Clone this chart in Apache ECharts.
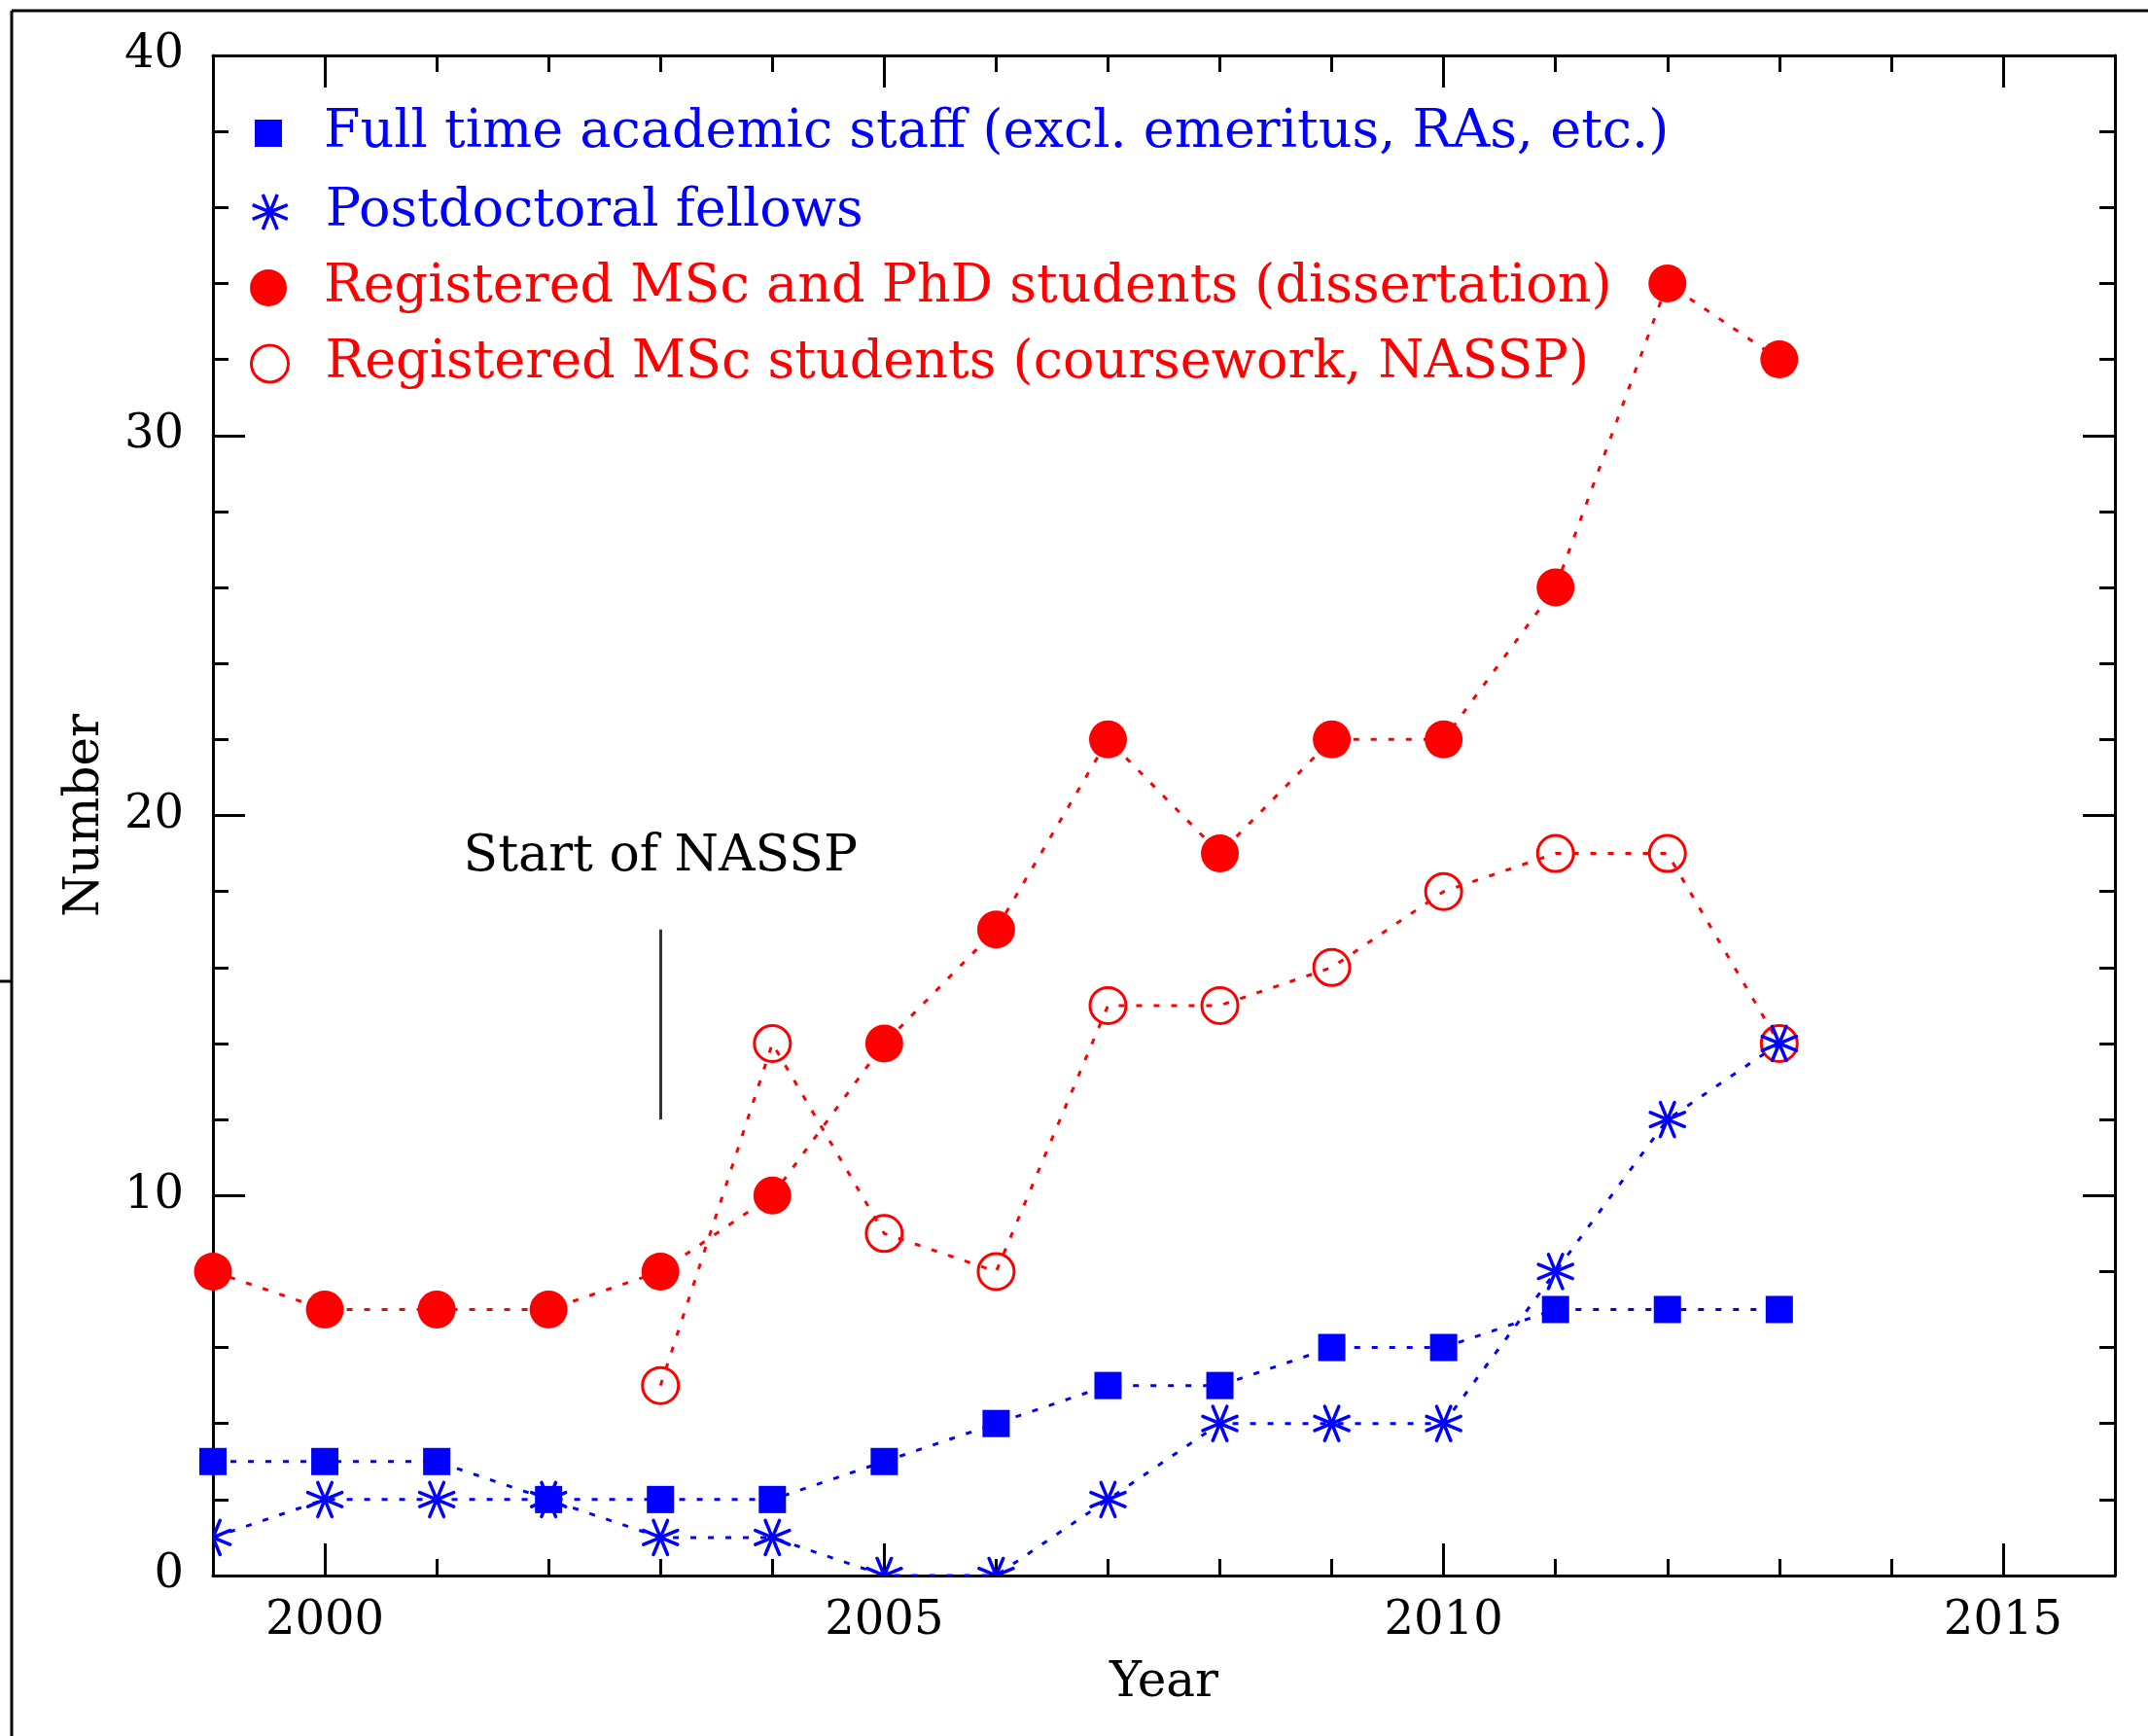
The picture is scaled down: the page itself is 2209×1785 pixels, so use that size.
<!DOCTYPE html>
<html>
<head>
<meta charset="utf-8">
<style>
  html, body { margin: 0; padding: 0; background: #fff; }
  #chart { width: 2209px; height: 1785px; }
</style>
<script src="https://cdn.jsdelivr.net/npm/echarts@6/dist/echarts.min.js"></script>
</head>
<body>
<div id="chart"></div>
<script>
// ---------- data ----------
var years = [1999, 2000, 2001, 2002, 2003, 2004, 2005, 2006, 2007, 2008, 2009, 2010, 2011, 2012, 2013];
var staff = [3, 3, 3, 2, 2, 2, 3, 4, 5, 5, 6, 6, 7, 7, 7];
var postdocs = [1, 2, 2, 2, 1, 1, 0, 0, 2, 4, 4, 4, 8, 12, 14];
var dissertation = [8, 7, 7, 7, 8, 10, 14, 17, 22, 19, 22, 22, 26, 34, 32];
var courseworkYears = [2003, 2004, 2005, 2006, 2007, 2008, 2009, 2010, 2011, 2012, 2013];
var coursework = [5, 14, 9, 8, 15, 15, 16, 18, 19, 19, 14];
var xLabelValues = [2000, 2005, 2010, 2015];
var seriesNames = [
  'Full time academic staff (excl. emeritus, RAs, etc.)',
  'Postdoctoral fellows',
  'Registered MSc and PhD students (dissertation)',
  'Registered MSc students (coursework, NASSP)'
];
var nasspYear = 2003;
var nasspLine = [12, 17];
var nasspTextY = 18.9;

function pairs(xs, ys) { return xs.map(function (x, i) { return [x, ys[i]]; }); }

// ---------- style ----------
var FONT = '"DejaVu Serif", serif';
var BLUE = '#0000ff';
var RED = '#ff0000';
var DOT = [6, 12];

var chart = echarts.init(document.getElementById('chart'), null, { renderer: 'canvas' });

function xAx(pos, longTicks, labels) {
  return {
    type: 'value', position: pos, gridIndex: 0,
    min: 1999, max: 2016,
    interval: 1,
    axisLine: { show: !longTicks, onZero: false, lineStyle: { color: '#000', width: 3 } },
    axisTick: longTicks
      ? { show: true, inside: true, length: 33, customValues: xLabelValues, lineStyle: { color: '#000', width: 3 } }
      : { show: true, inside: true, length: 17, lineStyle: { color: '#000', width: 3 } },
    axisLabel: labels
      ? { show: true, customValues: xLabelValues, formatter: function (v) { return String(v); },
          fontFamily: FONT, fontSize: 48, color: '#000', margin: 24 }
      : { show: false },
    splitLine: { show: false },
    name: labels ? 'Year' : '',
    nameLocation: 'middle', nameGap: 86,
    nameTextStyle: { fontFamily: FONT, fontSize: 50, color: '#000' }
  };
}
function yAx(pos, labels) {
  return {
    type: 'value', position: pos, gridIndex: 0,
    min: 0, max: 40, interval: 10,
    axisLine: { show: true, onZero: false, lineStyle: { color: '#000', width: 3 } },
    axisTick: { show: true, inside: true, length: 33, lineStyle: { color: '#000', width: 3 } },
    minorTick: { show: true, splitNumber: 5, length: 16, lineStyle: { color: '#000', width: 3 } },
    axisLabel: labels
      ? { show: true, fontFamily: FONT, fontSize: 48, color: '#000', margin: 30 }
      : { show: false },
    splitLine: { show: false },
    minorSplitLine: { show: false },
    name: labels ? 'Number' : '',
    nameLocation: 'middle', nameGap: 106, nameRotate: 90,
    nameTextStyle: { fontFamily: FONT, fontSize: 50, color: '#000' }
  };
}

function asterisk(params, api) {
  var p = api.coord([api.value(0), api.value(1)]);
  var r = 19, kids = [];
  for (var k = 0; k < 4; k++) {
    var a = (22.5 + 45 * k) * Math.PI / 180;
    var dx = r * Math.cos(a), dy = r * Math.sin(a);
    kids.push({ type: 'line', shape: { x1: p[0] - dx, y1: p[1] - dy, x2: p[0] + dx, y2: p[1] + dy },
      style: { stroke: BLUE, lineWidth: 3.5, lineCap: 'round' } });
  }
  return { type: 'group', children: kids };
}

var squarePath = 'path://M0,0L10,0L10,10L0,10Z';
var starPath = (function () {
  var s = '', r = 18;
  for (var k = 0; k < 4; k++) {
    var a = (22.5 + 45 * k) * Math.PI / 180;
    var dx = r * Math.cos(a), dy = r * Math.sin(a);
    s += 'M' + (18 - dx).toFixed(2) + ',' + (18 - dy).toFixed(2) + 'L' + (18 + dx).toFixed(2) + ',' + (18 + dy).toFixed(2);
  }
  return 'path://' + s;
})();

// icon centre at x=276, text start at x=333
function legendRow(centerY, s, item) {
  var left = 276 - s / 2 - 5;
  var textStart = left + 5 + s + 5;
  return {
    orient: 'vertical', left: left, top: centerY - 29, padding: 5,
    itemWidth: s, itemHeight: s, selectedMode: false,
    textStyle: { fontFamily: FONT, fontSize: 54, padding: [0, 0, 0, 333 - textStart] },
    data: [item]
  };
}

var option = {
  backgroundColor: '#fff',
  animation: false,
  grid: { left: 219, top: 57, width: 1956, height: 1563, containLabel: false },
  xAxis: [xAx('bottom', false, true), xAx('bottom', true, false), xAx('top', false, false), xAx('top', true, false)],
  yAxis: [yAx('left', true), yAx('right', false)],
  legend: [
    legendRow(134, 28, { name: seriesNames[0], icon: squarePath,
      itemStyle: { color: BLUE, borderWidth: 0 }, textStyle: { color: BLUE } }),
    legendRow(215, 36, { name: seriesNames[1], icon: starPath,
      itemStyle: { color: 'rgba(0,0,0,0)', borderColor: BLUE, borderWidth: 3.5 }, textStyle: { color: BLUE } }),
    legendRow(293, 38, { name: seriesNames[2], icon: 'circle',
      itemStyle: { color: RED, borderWidth: 0 }, textStyle: { color: RED } }),
    legendRow(371, 38, { name: seriesNames[3], icon: 'circle',
      itemStyle: { color: 'rgba(0,0,0,0)', borderColor: RED, borderWidth: 3 }, textStyle: { color: RED } })
  ],
  series: [
    {
      name: seriesNames[3], type: 'line', xAxisIndex: 0, yAxisIndex: 0, clip: false,
      data: pairs(courseworkYears, coursework),
      symbol: 'circle', symbolSize: 37,
      itemStyle: { color: 'rgba(0,0,0,0)', borderColor: RED, borderWidth: 3 },
      lineStyle: { color: RED, width: 3, type: DOT },
      z: 2
    },
    {
      name: seriesNames[2], type: 'line', xAxisIndex: 0, yAxisIndex: 0, clip: false,
      data: pairs(years, dissertation),
      symbol: 'circle', symbolSize: 39,
      itemStyle: { color: RED, borderWidth: 0 },
      lineStyle: { color: RED, width: 3, type: DOT },
      z: 3,
      markLine: {
        silent: true, symbol: ['none', 'none'], label: { show: false },
        lineStyle: { color: '#333', type: 'solid', width: 3 },
        data: [[{ coord: [nasspYear, nasspLine[0]] }, { coord: [nasspYear, nasspLine[1]] }]]
      },
      markPoint: {
        silent: true,
        symbol: 'circle', symbolSize: 1,
        itemStyle: { color: 'rgba(0,0,0,0)' },
        label: { show: true, position: 'inside', formatter: 'Start of NASSP',
          fontFamily: FONT, fontSize: 52, color: '#000' },
        data: [{ name: 'Start of NASSP', coord: [nasspYear, nasspTextY] }]
      }
    },
    {
      name: seriesNames[1], type: 'line', xAxisIndex: 0, yAxisIndex: 0, clip: true,
      data: pairs(years, postdocs),
      showSymbol: false, symbol: 'none',
      itemStyle: { color: BLUE },
      lineStyle: { color: BLUE, width: 3, type: DOT },
      z: 4
    },
    {
      name: seriesNames[1], type: 'custom', xAxisIndex: 0, yAxisIndex: 0, clip: true,
      data: pairs(years, postdocs),
      renderItem: asterisk,
      itemStyle: { color: BLUE },
      z: 5
    },
    {
      name: seriesNames[0], type: 'line', xAxisIndex: 0, yAxisIndex: 0, clip: false,
      data: pairs(years, staff),
      symbol: 'rect', symbolSize: 28,
      itemStyle: { color: BLUE, borderWidth: 0 },
      lineStyle: { color: BLUE, width: 3, type: DOT },
      z: 6
    }
  ],
  graphic: [
    { type: 'line', shape: { x1: 12, y1: 11, x2: 2209, y2: 11 }, style: { stroke: '#000', lineWidth: 3 }, silent: true },
    { type: 'line', shape: { x1: 12, y1: 11, x2: 12, y2: 1785 }, style: { stroke: '#000', lineWidth: 3 }, silent: true },
    { type: 'line', shape: { x1: 0, y1: 1009, x2: 12, y2: 1009 }, style: { stroke: '#000', lineWidth: 3 }, silent: true }
  ]
};

chart.setOption(option);
</script>
</body>
</html>
